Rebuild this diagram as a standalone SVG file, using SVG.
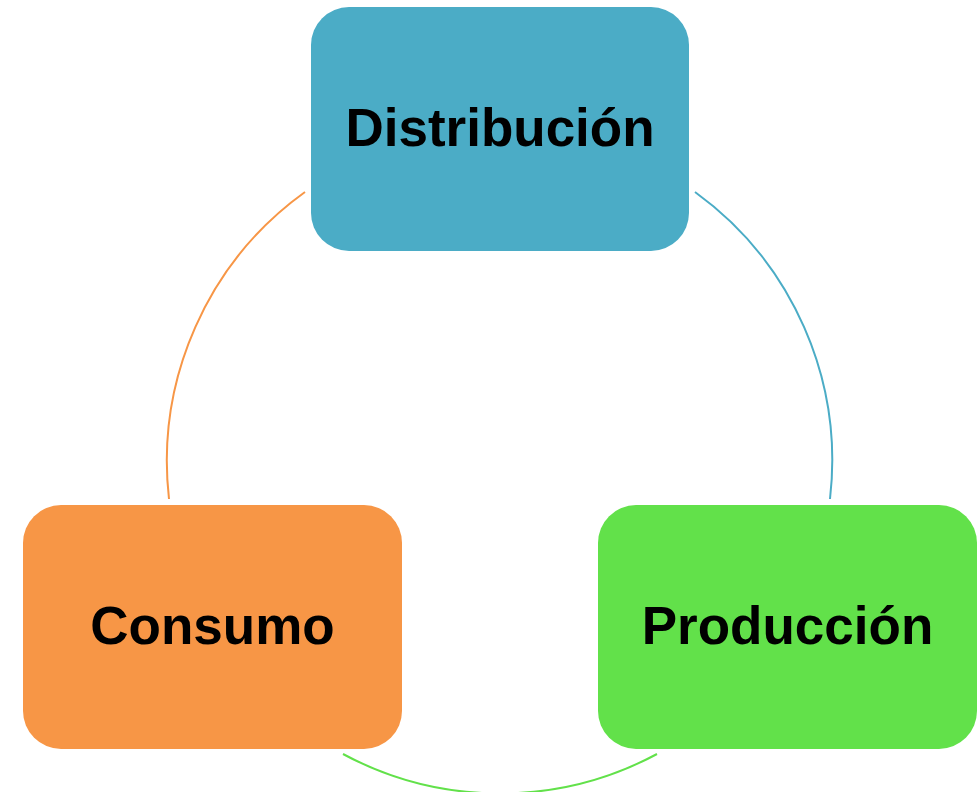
<svg xmlns="http://www.w3.org/2000/svg" width="980" height="792" viewBox="0 0 980 792">
<style>
.box{stroke:none}
.lbl{font-family:"Liberation Sans",Arial,sans-serif;font-weight:bold;font-size:53px;fill:#000;text-anchor:middle}
.arc{fill:none;stroke-width:2}
</style>
<rect width="980" height="792" fill="#fff"/>
<g id="connectors">
<path class="arc" stroke="#F79646" d="M305,192 A332,332 0 0 0 169,499"/>
<path class="arc" stroke="#4BACC6" d="M695,192 A332,332 0 0 1 830,499"/>
<path class="arc" stroke="#62E14A" d="M343,754 A332,332 0 0 0 657,754"/>
</g>
<g id="distribucion">
<rect class="box" x="311" y="7" width="378" height="244" rx="38" fill="#4BACC6"/>
<text class="lbl" x="500" y="146">Distribución</text>
</g>
<g id="consumo">
<rect class="box" x="23" y="505" width="379" height="244" rx="38" fill="#F79646"/>
<text class="lbl" x="212.5" y="644">Consumo</text>
</g>
<g id="produccion">
<rect class="box" x="598" y="505" width="379" height="244" rx="38" fill="#62E14A"/>
<text class="lbl" x="787.5" y="644">Producción</text>
</g>
</svg>
